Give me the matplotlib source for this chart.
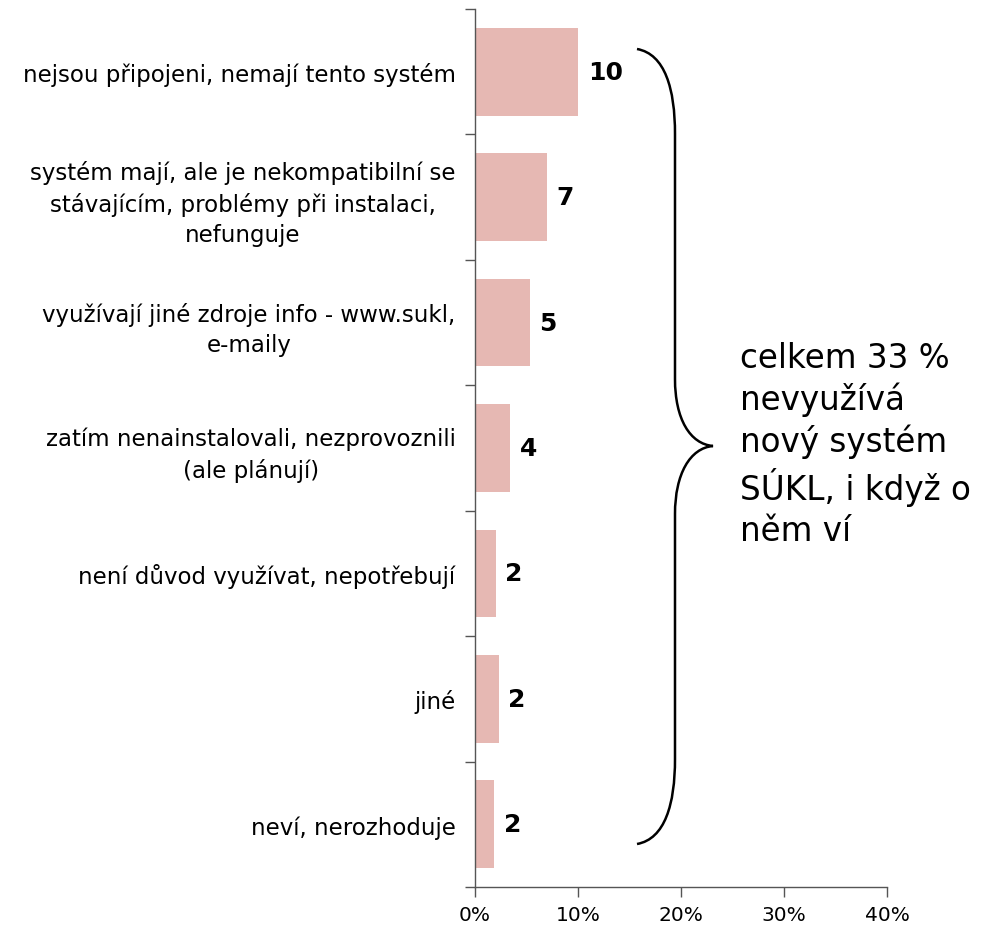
import matplotlib
matplotlib.use("Agg")
import matplotlib.pyplot as plt
from matplotlib.path import Path
from matplotlib.patches import PathPatch
from matplotlib.transforms import Affine2D
from matplotlib.ticker import FixedLocator, PercentFormatter

categories = [
    "nejsou připojeni, nemají tento systém",
    "systém mají, ale je nekompatibilní se\nstávajícím, problémy při instalaci,\nnefunguje",
    "využívají jiné zdroje info - www.sukl,\ne-maily",
    "zatím nenainstalovali, nezprovoznili\n(ale plánují)",
    "není důvod využívat, nepotřebují",
    "jiné",
    "neví, nerozhoduje",
]
values = [10.0, 7.0, 5.3, 3.4, 2.0, 2.3, 1.85]
value_labels = ["10", "7", "5", "4", "2", "2", "2"]
note = "celkem 33 %\nnevyužívá\nnový systém\nSÚKL, i když o\nněm ví"

W, H = 991, 928
fig = plt.figure(figsize=(W / 100, H / 100), dpi=100)
ax = fig.add_axes([475 / W, 1 - 888 / H, (887 - 475) / W, (888 - 10) / H])

ypos = list(range(len(categories)))
ax.barh(ypos, values, height=0.7, color="#E6B8B3", edgecolor="none")
ax.set_xlim(0, 40)
ax.set_ylim(len(categories) - 0.5, -0.5)

for y, v, lab in zip(ypos, values, value_labels):
    ax.annotate(lab, (v, y), xytext=(7, 0), textcoords="offset points",
                ha="left", va="center", fontsize=18, fontweight="bold", color="black")

ax.set_yticks(ypos)
ax.set_yticklabels(categories, fontsize=16.5, multialignment="center", linespacing=1.4)
ax.tick_params(axis="y", which="major", length=0, pad=14)
ax.yaxis.set_minor_locator(FixedLocator([i - 0.5 for i in range(len(categories) + 1)]))
ax.tick_params(axis="y", which="minor", length=7, width=1, color="#555555")

ax.set_xticks([0, 10, 20, 30, 40])
ax.xaxis.set_major_formatter(PercentFormatter(decimals=0))
ax.tick_params(axis="x", length=7, width=1, color="#555555", labelsize=14.5, pad=6)

for s in ["top", "right"]:
    ax.spines[s].set_visible(False)
for s in ["left", "bottom"]:
    ax.spines[s].set_color("#555555")
    ax.spines[s].set_linewidth(1)

# curly brace in pixel coordinates (decoration)
px = Affine2D().scale(1 / W, -1 / H).translate(0, 1) + fig.transFigure
verts = [
    (637, 50),
    (665, 55), (675, 90), (675, 135),
    (675, 380),
    (675, 420), (690, 445), (713, 447),
    (690, 449), (675, 475), (675, 515),
    (675, 760),
    (675, 805), (665, 840), (637, 845),
]
codes = [Path.MOVETO,
         Path.CURVE4, Path.CURVE4, Path.CURVE4,
         Path.LINETO,
         Path.CURVE4, Path.CURVE4, Path.CURVE4,
         Path.CURVE4, Path.CURVE4, Path.CURVE4,
         Path.LINETO,
         Path.CURVE4, Path.CURVE4, Path.CURVE4]
brace = PathPatch(Path(verts, codes), transform=px, fill=False, lw=1.8, color="black")
fig.patches.append(brace)

fig.text(740 / W, 1 - 342 / H, note, transform=fig.transFigure, ha="left", va="top",
         fontsize=23.5, linespacing=1.28, color="black")

fig.savefig("out.png", dpi=100)
